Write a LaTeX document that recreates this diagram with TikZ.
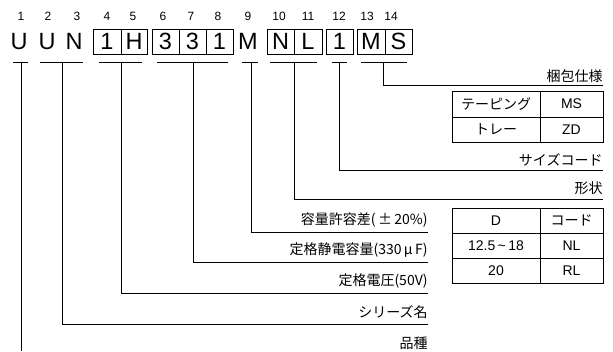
\documentclass[tikz,border=0pt]{standalone}
\usepackage{fontspec}
\setmainfont{Liberation Sans}
\newfontfamily\jp{Noto Sans CJK JP}
\begin{document}
\begin{tikzpicture}[x=1pt,y=-1pt,line width=0.9pt]
\tikzset{
  num/.style={font=\fontsize{12}{12}\selectfont, inner sep=0pt},
  ch/.style={font=\fontsize{23.5}{23.5}\selectfont, inner sep=0pt, minimum height=25pt},
  boxch/.style={ch, draw},
  lab/.style={font=\jp\fontsize{14}{14}\selectfont, inner sep=0pt, anchor=east},
  cell/.style={draw, inner sep=0pt, font=\fontsize{14}{14}\selectfont},
  jcell/.style={cell, font=\jp\fontsize{14}{14}\selectfont},
}
\useasboundingbox (0,0) rectangle (613,351);
% position numbers
\foreach \i/\x in {1/21,2/48,3/77,4/107,5/133,6/163,7/191,8/218,9/248,10/279,11/308,12/339,13/367,14/391}
  \node[num] (n\i) at (\x,16) {\i};
% code letters
\node[ch] (c1) at (19,41.5) {U};
\node[ch] (c2) at (47,41.5) {U};
\node[ch] (c3) at (74,41.5) {N};
\node[boxch, minimum width=28pt] (c4) at (107,41.5) {1};
\node[boxch, minimum width=26pt] (c5) at (134,41.5) {H};
\node[boxch, minimum width=27pt] (c6) at (165.5,41.5) {3};
\node[boxch, minimum width=27pt] (c7) at (192.5,41.5) {3};
\node[boxch, minimum width=27pt] (c8) at (219.5,41.5) {1};
\node[ch] (c9) at (248,41.5) {M};
\node[boxch, minimum width=27pt] (c10) at (280.5,41.5) {N};
\node[boxch, minimum width=28pt] (c11) at (308,41.5) {L};
\node[boxch, minimum width=27pt] (c12) at (339.5,41.5) {1};
\node[boxch, minimum width=28pt] (c13) at (371,41.5) {M};
\node[boxch, minimum width=27pt] (c14) at (398.5,41.5) {S};
% underline brackets
\foreach \n/\a/\b in {g1/13/28, g23/40/83, g45/99/142, g68/157/228, g9/242/258, g1011/270/317, g12/332/347, g1314/361/407}{
  \coordinate (\n a) at (\a,62);
  \coordinate (\n b) at (\b,62);
  \draw (\n a) -- (\n b);
}
\coordinate (g1t) at (21,62);
\coordinate (g23t) at (62,62);
\coordinate (g45t) at (121,62);
\coordinate (g68t) at (193,62);
\coordinate (g9t) at (251,62);
\coordinate (g1011t) at (294,62);
\coordinate (g12t) at (339,62);
\coordinate (g1314t) at (383,62);
% left labels
\node[lab] (L9) at (428,220) {容量許容差(\,±\,20\%)};
\node[lab] (L68) at (428,250) {定格静電容量(330\,μ\,F)};
\node[lab] (L45) at (428,281) {定格電圧(50V)};
\node[lab] (L23) at (428,312) {シリーズ名};
\node[lab] (L1) at (428,343) {品種};
\coordinate (e9) at (428,232);
\coordinate (e68) at (428,262);
\coordinate (e45) at (428,293);
\coordinate (e23) at (428,324);
\coordinate (e1) at (21,351);
\draw (g9t) |- (e9);
\draw (g68t) |- (e68);
\draw (g45t) |- (e45);
\draw (g23t) |- (e23);
\draw (g1t) -- (e1);
% right labels
\node[lab] (R1314) at (603,76) {梱包仕様};
\node[lab] (R12) at (603,160) {サイズコード};
\node[lab] (R1011) at (603,188) {形状};
\coordinate (f1314) at (603,85);
\coordinate (f12) at (603,170);
\coordinate (f1011) at (603,199);
\draw (g1314t) |- (f1314);
\draw (g12t) |- (f12);
\draw (g1011t) |- (f1011);
% packing table
\node[jcell, minimum width=88pt, minimum height=26pt] (p11) at (496,104) {テーピング};
\node[cell, minimum width=63pt, minimum height=26pt] (p12) at (571.5,104) {MS};
\node[jcell, minimum width=88pt, minimum height=25pt] (p21) at (496,129.5) {トレー};
\node[cell, minimum width=63pt, minimum height=25pt] (p22) at (571.5,129.5) {ZD};
% shape table
\node[cell, minimum width=88pt, minimum height=25pt] (d11) at (496,220.5) {D};
\node[jcell, minimum width=63pt, minimum height=25pt] (d12) at (571.5,220.5) {コード};
\node[cell, minimum width=88pt, minimum height=25pt] (d21) at (496,245.5) {12.5\,\textasciitilde\,18};
\node[cell, minimum width=63pt, minimum height=25pt] (d22) at (571.5,245.5) {NL};
\node[cell, minimum width=88pt, minimum height=25pt] (d31) at (496,270.5) {20};
\node[cell, minimum width=63pt, minimum height=25pt] (d32) at (571.5,270.5) {RL};
\end{tikzpicture}
\end{document}
